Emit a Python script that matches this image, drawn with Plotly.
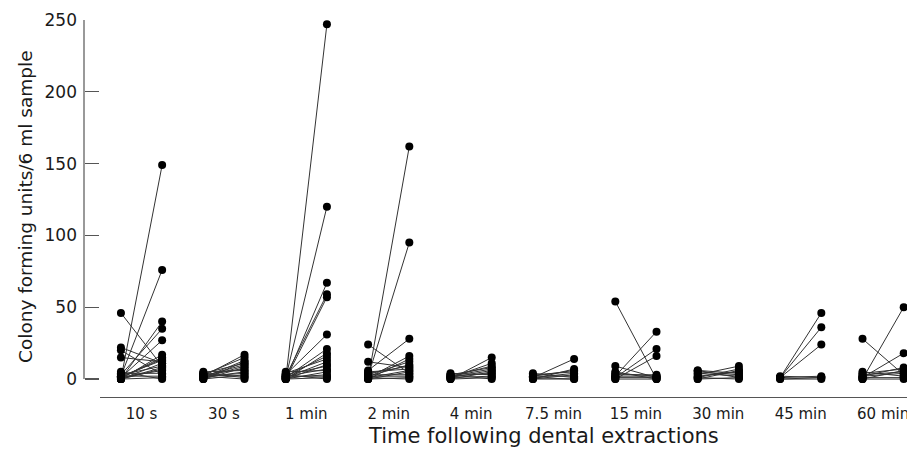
import plotly.graph_objects as go

categories = ["10 s", "30 s", "1 min", "2 min", "4 min", "7.5 min", "15 min", "30 min", "45 min", "60 min"]

left_10s = [0, 2, 0, 3, 1, 46, 22, 15, 20, 0, 1, 2, 0, 3, 0, 1, 4, 2, 0, 5, 1, 0]
right_10s = [149, 76, 40, 35, 27, 9, 11, 12, 3, 17, 15, 13, 11, 9, 8, 6, 4, 2, 1, 0, 14, 7]

left_30s = [2, 3, 1, 4, 2, 0, 3, 5, 1, 2, 0, 3, 4, 2, 1, 0]
right_30s = [17, 15, 13, 11, 10, 8, 7, 6, 5, 4, 3, 2, 1, 0, 9, 12]

left_1min = [0, 1, 0, 2, 0, 3, 1, 0, 2, 4, 1, 0, 3, 2, 5, 0, 1, 2, 0, 3]
right_1min = [247, 120, 67, 59, 57, 31, 21, 18, 16, 14, 12, 10, 9, 7, 6, 5, 3, 2, 1, 0]

left_2min = [0, 2, 6, 24, 12, 1, 0, 3, 2, 4, 5, 1, 0, 3, 2, 0, 1]
right_2min = [162, 95, 28, 4, 8, 16, 14, 12, 10, 9, 7, 6, 5, 3, 2, 1, 0]

left_4min = [0, 1, 2, 3, 1, 0, 2, 4, 1, 0, 3, 2]
right_4min = [15, 11, 9, 8, 6, 5, 4, 3, 2, 1, 0, 7]

left_7_5min = [1, 0, 2, 3, 1, 0, 2, 4, 1, 0]
right_7_5min = [14, 7, 6, 5, 4, 3, 2, 1, 0, 0]

left_15min = [54, 9, 2, 1, 0, 3, 2, 1, 0, 5, 4]
right_15min = [0, 1, 33, 21, 16, 3, 2, 1, 0, 0, 2]

left_30min = [6, 5, 3, 1, 0, 2, 4, 1, 0, 6]
right_30min = [1, 3, 9, 7, 6, 5, 2, 0, 1, 4]

left_45min = [1, 1, 1, 1, 0, 2, 0]
right_45min = [46, 36, 24, 2, 1, 1, 0]

left_60min = [28, 0, 1, 2, 0, 3, 5, 1, 0, 2, 4]
right_60min = [3, 50, 18, 8, 6, 5, 2, 1, 0, 4, 7]

groups = [
    (left_10s, right_10s), (left_30s, right_30s), (left_1min, right_1min),
    (left_2min, right_2min), (left_4min, right_4min), (left_7_5min, right_7_5min),
    (left_15min, right_15min), (left_30min, right_30min), (left_45min, right_45min),
    (left_60min, right_60min),
]

yticks = [0, 50, 100, 150, 200, 250]
xtitle = "Time following dental extractions"
ytitle = "Colony forming units/6 ml sample"

FONT = "DejaVu Sans"
AXC = "#555555"
TXT = "#1a1a1a"
W, H = 907, 451
ML, MT = 84, 20
AXIS_Y = 397
MB = H - AXIS_Y
PW = W - ML
PH = AXIS_Y - MT

fig = go.Figure()
for i, (lv, rv) in enumerate(groups):
    xs, ys = [], []
    for a, b in zip(lv, rv):
        xs += [i - 0.25, i + 0.25, None]
        ys += [a, b, None]
    fig.add_trace(go.Scatter(
        x=xs, y=ys, mode="lines+markers",
        line=dict(color="#333333", width=1),
        marker=dict(color="black", size=8),
        cliponaxis=False, showlegend=False, hoverinfo="skip",
    ))

fig.add_shape(type="line", xref="paper", yref="y", x0=0, x1=0, y0=0, y1=250,
              line=dict(color=AXC, width=1.2))

fig.add_annotation(text=xtitle, xref="paper", yref="paper",
                   x=(543 - ML) / PW, y=-(436 - AXIS_Y) / PH, xanchor="center", yanchor="middle",
                   showarrow=False, font=dict(family=FONT, size=21, color=TXT))
fig.add_annotation(text=ytitle, xref="paper", yref="paper", textangle=-90,
                   x=(25 - ML) / PW, y=(AXIS_Y - 207) / PH, xanchor="center", yanchor="middle",
                   showarrow=False, font=dict(family=FONT, size=18.5, color=TXT))

fig.update_layout(
    width=W, height=H,
    margin=dict(l=ML, r=0, t=MT, b=MB, autoexpand=False),
    paper_bgcolor="white", plot_bgcolor="white",
    font=dict(family=FONT, size=16, color=TXT),
    xaxis=dict(domain=[16 / PW, 1], range=[-0.504, 9.29],
               tickvals=list(range(len(categories))), ticktext=categories,
               showline=True, linecolor=AXC, linewidth=1.2, ticks="",
               showgrid=False, zeroline=False, tickfont=dict(size=15),
               ticklabelstandoff=3, ticklabeloverflow="allow"),
    yaxis=dict(range=[-12.5, 250], anchor="free", position=0,
               tickvals=yticks, showline=False, ticks="inside", ticklen=14,
               tickcolor=AXC, tickwidth=1.2, showgrid=False, zeroline=False,
               tickfont=dict(size=17), ticklabelstandoff=7),
)

fig.write_html(
    "out.html",
    config={"displayModeBar": False, "staticPlot": True},
    post_script="document.body.style.margin='0';document.body.style.overflow='hidden';",
)
